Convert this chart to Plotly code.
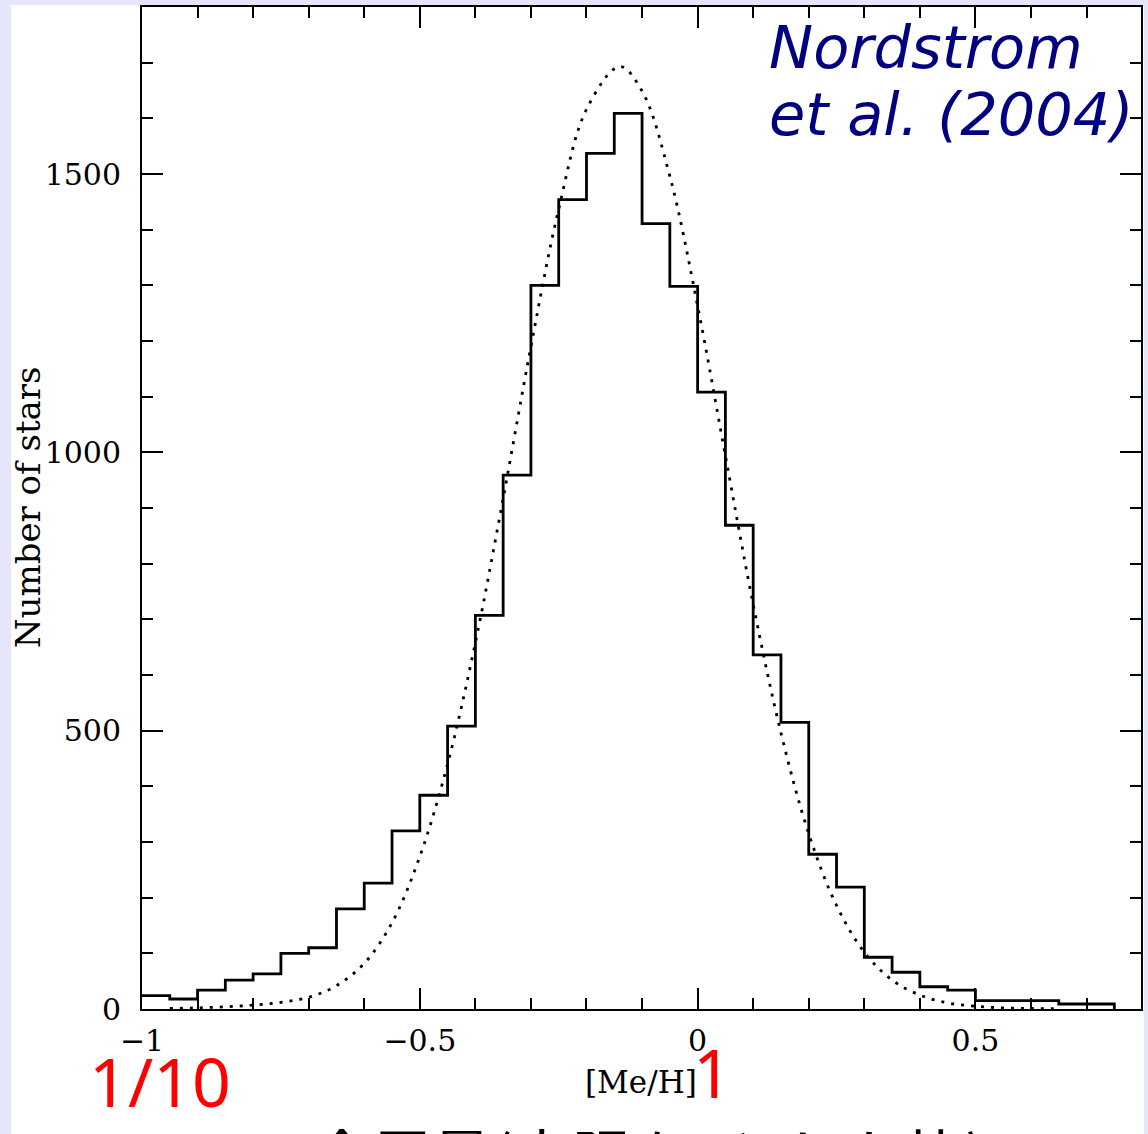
import plotly.graph_objects as go

# ---- data ----
bin_edges = [-1.00, -0.95, -0.90, -0.85, -0.80, -0.75, -0.70, -0.65, -0.60, -0.55,
             -0.50, -0.45, -0.40, -0.35, -0.30, -0.25, -0.20, -0.15, -0.10, -0.05,
             0.00, 0.05, 0.10, 0.15, 0.20, 0.25, 0.30, 0.35, 0.40, 0.45,
             0.50, 0.55, 0.60, 0.65, 0.70, 0.75]
bin_counts = [24, 18, 34, 52, 63, 100, 110, 180, 226, 320,
              384, 508, 707, 959, 1300, 1454, 1537, 1609, 1411, 1298,
              1108, 869, 636, 515, 278, 219, 93, 66, 40, 34,
              15, 15, 15, 9, 9]

fit_x = [-0.95, -0.90, -0.85, -0.80, -0.75, -0.70, -0.65, -0.60, -0.55, -0.50,
         -0.45, -0.40, -0.35, -0.30, -0.25, -0.20, -0.14, -0.10, -0.05, 0.00,
         0.05, 0.10, 0.15, 0.20, 0.25, 0.30, 0.35, 0.40, 0.45, 0.50,
         0.55, 0.60, 0.65]
fit_y = [1, 2, 4, 7, 12, 21, 42, 82, 155, 274,
         440, 658, 917, 1190, 1437, 1616, 1693, 1649, 1496, 1263,
         994, 727, 496, 315, 186, 102, 52, 25, 11, 5,
         2, 1, 0.5]

x_tick_vals = [-1, -0.5, 0, 0.5]
y_tick_vals = [0, 500, 1000, 1500]

# ---- geometry ----
W, H = 1148, 1134
L, R, T, B = 142, 5, 7, 125
PW, PH = W - L - R, H - T - B


def px(xp):
    return (xp - L) / PW


def py(yp):
    return (H - B - yp) / PH


fig = go.Figure()

fig.add_trace(go.Scatter(
    x=fit_x, y=fit_y, mode="lines", line_shape="spline",
    line=dict(color="black", width=2.8, dash="3px,7px"),
    hoverinfo="skip", showlegend=False,
))

fig.add_trace(go.Scatter(
    x=bin_edges, y=bin_counts + [0], mode="lines", line_shape="hv",
    line=dict(color="black", width=2.8),
    hoverinfo="skip", showlegend=False,
))

axis_common = dict(
    showline=True, linecolor="black", linewidth=2, mirror="ticks",
    ticks="inside", ticklen=21, tickwidth=2, tickcolor="black",
    showgrid=False, zeroline=False,
    tickfont=dict(family="DejaVu Serif", size=30, color="black"),
)

fig.update_xaxes(
    range=[-1, 0.798], tickvals=x_tick_vals, ticklabelstandoff=4,
    minor=dict(dtick=0.1, tick0=0, ticks="inside", ticklen=11, tickwidth=2,
               tickcolor="black", showgrid=False),
    **axis_common,
)
fig.update_yaxes(
    range=[0, 1800], tickvals=y_tick_vals, ticklabelstandoff=13,
    minor=dict(dtick=100, tick0=0, ticks="inside", ticklen=11, tickwidth=2,
               tickcolor="black", showgrid=False),
    **axis_common,
)

annotations = [
    dict(text="Number of stars", x=px(28), y=py(507), textangle=-90,
         font=dict(family="DejaVu Serif", size=34, color="black")),
    dict(text="[Me/H]", x=px(642), y=py(1082),
         font=dict(family="DejaVu Serif", size=31, color="black")),
    dict(text="1/10", x=px(160), y=py(1080),
         font=dict(family="Noto Sans", size=68, color="red")),
    dict(text="1", x=px(714), y=py(1071),
         font=dict(family="Noto Sans", size=68, color="red")),
    dict(text="<i>Nordstrom</i>", x=px(768), y=py(48), xanchor="left",
         font=dict(family="DejaVu Sans", size=59, color="#000080")),
    dict(text="<i>et al. (2004)</i>", x=px(768), y=py(115), xanchor="left",
         font=dict(family="DejaVu Sans", size=59, color="#000080")),
    dict(text="金属量(太陽を1とした比)", x=px(650), y=py(1108), yanchor="top",
         font=dict(family="Noto Sans CJK JP", size=60, color="black")),
]
for a in annotations:
    a.setdefault("xanchor", "center")
    a.setdefault("yanchor", "middle")
    a.update(xref="paper", yref="paper", showarrow=False)

fig.update_layout(
    width=W, height=H,
    margin=dict(l=L, r=R, t=T, b=B, pad=0),
    paper_bgcolor="#E6E6FA", plot_bgcolor="white",
    annotations=annotations,
    shapes=[dict(type="rect", xref="paper", yref="paper", layer="below",
                 x0=px(11), x1=px(1146), y0=py(1160), y1=py(5),
                 fillcolor="white", line=dict(width=0))],
    showlegend=False,
)

fig.write_html(
    "out.html",
    config={"displayModeBar": False},
    post_script="document.body.style.margin='0';document.body.style.overflow='hidden';",
)
